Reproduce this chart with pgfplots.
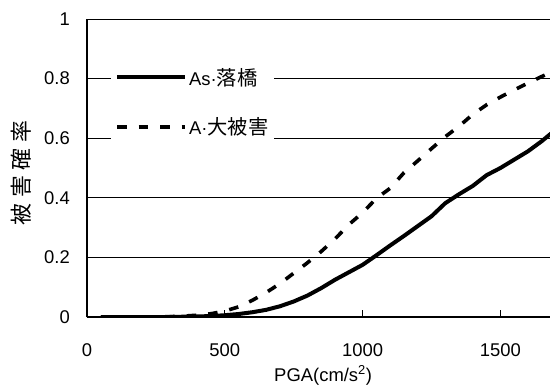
\documentclass[border=0pt]{standalone}
\usepackage{fontspec}
\setmainfont{Liberation Sans}
\newfontfamily\cjk[Scale=1.1]{Noto Sans CJK JP}
\usepackage{pgfplots}
\pgfplotsset{compat=1.18}
\usetikzlibrary{calc}
\pgfplotstableread{
x y
50 0
100 0
150 0
200 0
250 0
300 0
350 0.001
400 0.002
450 0.003
500 0.006
550 0.010
600 0.016
650 0.024
700 0.036
750 0.052
800 0.072
850 0.097
900 0.125
950 0.150
1000 0.175
1050 0.207
1100 0.240
1150 0.272
1200 0.305
1250 0.338
1300 0.382
1350 0.412
1400 0.440
1450 0.476
1500 0.500
1550 0.528
1600 0.556
1650 0.590
1700 0.628
}\tabAs
\pgfplotstableread{
x y
50 0
100 0
150 0
200 0
250 0
300 0.001
350 0.003
400 0.006
450 0.011
500 0.020
550 0.034
600 0.056
650 0.082
700 0.112
750 0.147
800 0.182
850 0.220
900 0.262
950 0.310
1000 0.350
1050 0.398
1100 0.432
1150 0.484
1200 0.524
1250 0.565
1300 0.605
1350 0.640
1400 0.680
1450 0.712
1500 0.738
1550 0.762
1600 0.785
1650 0.807
1700 0.828
}\tabA
\begin{document}
\begin{tikzpicture}
\begin{axis}[
  scale only axis,
  width=463bp, height=298bp,
  xmin=0, xmax=1680, ymin=0, ymax=1,
  axis x line*=bottom, axis y line*=left,
  axis line style={black, line width=1.3bp},
  xtick={0,500,1000,1500},
  xticklabels={0,500,1000,1500},
  ytick={0,0.2,0.4,0.6,0.8,1},
  yticklabels={0,0.2,0.4,0.6,0.8,1},
  xtick align=inside,
  major tick length=7bp,
  x tick style={black, line width=1bp},
  y tick style={draw=none},
  ymajorgrids,
  major grid style={black, line width=0.8bp},
  tick label style={font=\fontsize{18.5}{20}\selectfont},
  xticklabel style={anchor=north, inner sep=0pt, yshift=-26bp},
  yticklabel style={anchor=east, inner sep=0pt, xshift=-17bp},
  xlabel={PGA(cm/s\textsuperscript{2})},
  xlabel style={at={(axis description cs:0.51,-0.2148)}, anchor=base, inner sep=0pt, font=\fontsize{18.5}{20}\selectfont},
  ylabel={\cjk 被\hspace{6bp}害\hspace{6bp}確\hspace{6bp}率},
  ylabel style={at={(axis description cs:-0.143,0.483)}, anchor=center, inner sep=0pt, font=\fontsize{20}{22}\selectfont},
  legend style={at={(axis cs:87,0.856)}, anchor=north west, fill=white, draw=none,
    font=\fontsize{18.5}{20}\selectfont, inner xsep=4bp, inner ysep=4bp, row sep=27bp},
  legend cell align=left,
  legend image code/.code={\draw[#1] (0bp,0bp) -- (68bp,0bp);},
  clip=true,
]
\addplot[black, line width=4bp, line join=round] table[x=x,y=y] {\tabAs};
\addlegendentry{As·{\cjk 落橋}}
\addplot[black, line width=3.6bp, dash pattern=on 9.5bp off 12bp] table[x=x,y=y] {\tabA};
\addlegendentry{A·{\cjk 大被害}}
\coordinate (O) at (rel axis cs:0,0);
\end{axis}
\pgfresetboundingbox
\path ($(O)+(-87bp,-68bp)$) rectangle ($(O)+(463bp,317bp)$);
\end{tikzpicture}
\end{document}
